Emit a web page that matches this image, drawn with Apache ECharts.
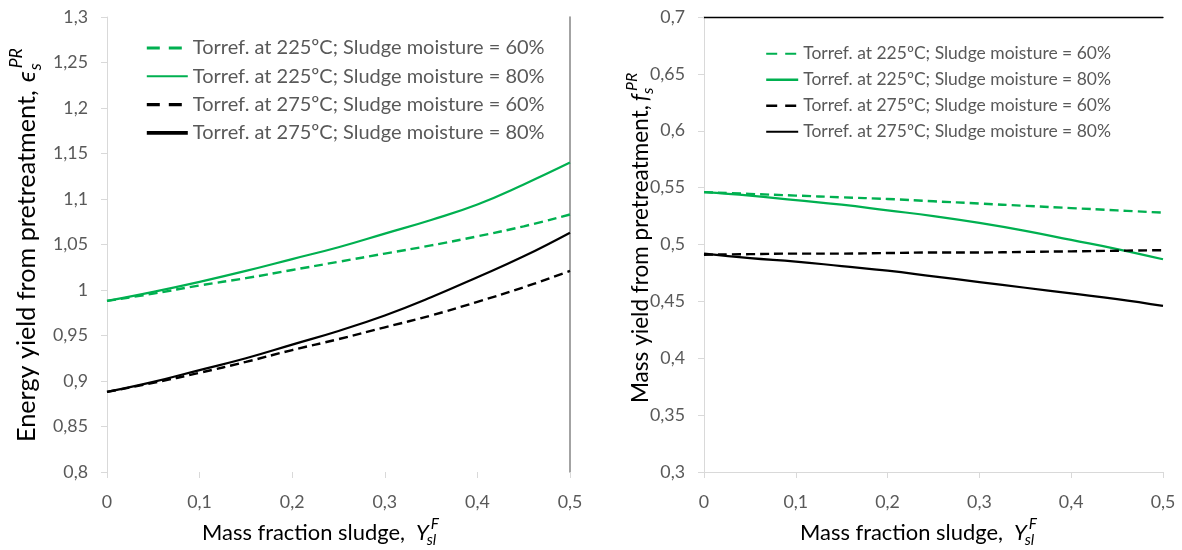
<!DOCTYPE html>
<html>
<head>
<meta charset="utf-8">
<script src="https://cdn.jsdelivr.net/npm/echarts@6/dist/echarts.min.js"></script>
<style>
  html, body { margin: 0; padding: 0; background: #ffffff; }
  #chart { width: 1182px; height: 550px; }
</style>
</head>
<body>
<div id="chart"></div>
<script>
// Mass fraction of sludge in the blend (x for both panels)
const xFraction = [0, 0.05, 0.1, 0.15, 0.2, 0.25, 0.3, 0.35, 0.4, 0.45, 0.5];

// Series labels
const seriesNames = [
  'Torref. at 225ºC; Sludge moisture = 60%',
  'Torref. at 225ºC; Sludge moisture = 80%',
  'Torref. at 275ºC; Sludge moisture = 60%',
  'Torref. at 275ºC; Sludge moisture = 80%'
];

// Energy yield from pretreatment (left panel)
const energy225m60 = [0.988, 0.996, 1.005, 1.013, 1.022, 1.031, 1.040, 1.049, 1.059, 1.070, 1.083];
const energy225m80 = [0.988, 0.998, 1.009, 1.021, 1.034, 1.047, 1.062, 1.077, 1.094, 1.116, 1.140];
const energy275m60 = [0.888, 0.898, 0.909, 0.921, 0.934, 0.946, 0.959, 0.972, 0.987, 1.003, 1.021];
const energy275m80 = [0.888, 0.899, 0.912, 0.925, 0.940, 0.955, 0.972, 0.992, 1.014, 1.037, 1.063];

// Mass yield from pretreatment (right panel)
const mass225m60 = [0.546, 0.5445, 0.543, 0.5415, 0.540, 0.538, 0.536, 0.534, 0.532, 0.530, 0.528];
const mass225m80 = [0.546, 0.543, 0.539, 0.535, 0.530, 0.525, 0.519, 0.512, 0.504, 0.496, 0.487];
const mass275m60 = [0.491, 0.4915, 0.492, 0.492, 0.4925, 0.493, 0.493, 0.4935, 0.494, 0.4945, 0.495];
const mass275m80 = [0.492, 0.488, 0.485, 0.481, 0.477, 0.472, 0.467, 0.462, 0.457, 0.452, 0.446];

// Axis ranges
const xRange = { min: 0, max: 0.5, interval: 0.1 };
const energyRange = { min: 0.8, max: 1.3, interval: 0.05 };
const massRange = { min: 0.3, max: 0.7, interval: 0.05 };

const GREEN = '#00b050';
const BLACK = '#000000';
const LABEL_GREY = '#595959';
const AXIS_GREY = '#d9d9d9';
const FONT = 'Lato, "Noto Sans", "Liberation Sans", sans-serif';

// Text measuring helpers
const measureCtx = document.createElement('canvas').getContext('2d');
function textWidth(text, size, style) {
  measureCtx.font = (style ? style + ' ' : '') + size + 'px ' + FONT;
  return measureCtx.measureText(text).width;
}
function fitSize(text, width, style) {
  return 100 * width / textWidth(text, 100, style);
}

const tickSize = fitSize('0,85', 35);
const legendLeftSize = fitSize(seriesNames[0], 352);
const legendRightSize = fitSize(seriesNames[0], 308);
const yTitleLeftSize = fitSize('Energy yield from pretreatment,', 352);
const yTitleRightSize = fitSize('Mass yield from pretreatment,', 298);
const xTitleSize = fitSize('Mass fraction sludge,', 203);

const commaFormat = v => String(Math.round(v * 100) / 100).replace('.', ',');

function lineSeries(name, values, color, dashed, axisIndex, yAxisIndex) {
  return {
    name: name,
    type: 'line',
    xAxisIndex: axisIndex,
    yAxisIndex: yAxisIndex,
    data: xFraction.map((x, i) => [x, values[i]]),
    symbol: 'none',
    smooth: 0.45,
    silent: true,
    lineStyle: { color: color, width: dashed ? 2.4 : 2.2, type: dashed ? [9, 5] : 'solid' },
    itemStyle: { color: color },
    emphasis: { disabled: true }
  };
}

// Title made of a plain part followed by an italic symbol with stacked sub/superscripts
function mathTitle(o) {
  const wMain = textWidth(o.main, o.size);
  const wSym = textWidth(o.sym, o.size, 'italic');
  const small = o.size * 0.7;
  const symX = wMain + o.gap;
  const scriptX = symX + wSym + (o.scriptShift || 0);
  const base = { fontFamily: FONT, fill: '#000000', align: 'left', verticalAlign: 'middle' };
  return {
    type: 'group',
    x: o.x,
    y: o.y,
    rotation: o.rotation || 0,
    silent: true,
    children: [
      { type: 'text', x: 0, y: 0, style: Object.assign({ text: o.main, fontSize: o.size }, base) },
      { type: 'text', x: symX, y: 0, style: Object.assign({ text: o.sym, fontSize: o.size, fontStyle: 'italic' }, base) },
      { type: 'text', x: scriptX, y: o.size * 0.32, style: Object.assign({ text: o.sub, fontSize: small, fontStyle: 'italic' }, base) },
      { type: 'text', x: scriptX + (o.supShift || 0), y: -o.size * 0.42, style: Object.assign({ text: o.sup, fontSize: small, fontStyle: 'italic' }, base) }
    ]
  };
}

function valueX(gridIndex, extra) {
  return Object.assign({
    type: 'value',
    gridIndex: gridIndex,
    min: xRange.min, max: xRange.max, interval: xRange.interval,
    splitLine: { show: false },
    axisLine: { show: true, lineStyle: { color: AXIS_GREY, width: 1 } },
    axisTick: { show: true, length: 6, lineStyle: { color: AXIS_GREY } },
    axisLabel: { margin: 21, color: LABEL_GREY, fontSize: tickSize, fontFamily: FONT, formatter: commaFormat }
  }, extra || {});
}

function valueY(gridIndex, range, extra) {
  return Object.assign({
    type: 'value',
    gridIndex: gridIndex,
    min: range.min, max: range.max, interval: range.interval,
    splitLine: { show: false },
    axisLine: { show: true, lineStyle: { color: AXIS_GREY, width: 1 } },
    axisTick: { show: true, length: 6, lineStyle: { color: AXIS_GREY } },
    axisLabel: { margin: 19, color: LABEL_GREY, fontSize: tickSize, fontFamily: FONT, formatter: commaFormat }
  }, extra || {});
}

const hidden = { axisLabel: { show: false }, axisTick: { show: false }, splitLine: { show: false } };

// Legend rows: line sample only (the marker part of the icon is made transparent)
function legendBlock(left, top, size, iconWidth, rowHeight, thickLeft) {
  const styles = thickLeft
    ? [{ width: 3.2, type: [13, 9] }, { width: 2 }, { width: 3.2, type: [13, 9] }, { width: 3.6 }]
    : [{ width: 2, type: [11, 8] }, { width: 2.4 }, { width: 2.4, type: [11, 8] }, { width: 2.2 }];
  return {
    orient: 'vertical',
    left: left,
    top: top,
    itemWidth: iconWidth,
    itemHeight: size,
    itemGap: rowHeight - size,
    selectedMode: false,
    textStyle: { color: LABEL_GREY, fontSize: size, fontFamily: FONT, lineHeight: size },
    data: seriesNames.map((n, i) => ({ name: n, lineStyle: styles[i], itemStyle: { opacity: 0 } }))
  };
}

const chart = echarts.init(document.getElementById('chart'), null, { renderer: 'canvas' });

chart.setOption({
  animation: false,
  backgroundColor: '#ffffff',
  grid: [
    { left: 107, right: 612, top: 17, bottom: 78 },
    { left: 704, right: 19, top: 17, bottom: 78 }
  ],
  xAxis: [
    valueX(0, { axisLine: { show: false } }),
    valueX(1),
    valueX(1, Object.assign({ position: 'top', axisLine: { show: true, lineStyle: { color: BLACK, width: 1.3 } } }, hidden))
  ],
  yAxis: [
    valueY(0, energyRange),
    valueY(0, energyRange, Object.assign({ position: 'right', axisLine: { show: true, lineStyle: { color: '#8c8c8c', width: 1.6 } } }, hidden)),
    valueY(1, massRange)
  ],
  legend: [
    legendBlock(140, 33, legendLeftSize, 41, 28.3, true),
    legendBlock(760, 40, legendRightSize, 32, 26, false)
  ],
  series: [
    lineSeries(seriesNames[0], energy225m60, GREEN, true, 0, 0),
    lineSeries(seriesNames[1], energy225m80, GREEN, false, 0, 0),
    lineSeries(seriesNames[2], energy275m60, BLACK, true, 0, 0),
    lineSeries(seriesNames[3], energy275m80, BLACK, false, 0, 0),
    lineSeries(seriesNames[0], mass225m60, GREEN, true, 1, 2),
    lineSeries(seriesNames[1], mass225m80, GREEN, false, 1, 2),
    lineSeries(seriesNames[2], mass275m60, BLACK, true, 1, 2),
    lineSeries(seriesNames[3], mass275m80, BLACK, false, 1, 2)
  ],
  graphic: [
    mathTitle({ main: 'Energy yield from pretreatment,', sym: 'ϵ', sub: 's', sup: 'PR',
      size: yTitleLeftSize, x: 27, y: 442, rotation: Math.PI / 2, gap: 8, scriptShift: 1, supShift: 2 }),
    mathTitle({ main: 'Mass yield from pretreatment,', sym: 'f', sub: 's', sup: 'PR',
      size: yTitleRightSize, x: 641, y: 403, rotation: Math.PI / 2, gap: 4, scriptShift: 0, supShift: 3 }),
    mathTitle({ main: 'Mass fraction sludge,', sym: 'Y', sub: 'sl', sup: 'F',
      size: xTitleSize, x: 202, y: 533, gap: 11, scriptShift: -2, supShift: 4 }),
    mathTitle({ main: 'Mass fraction sludge,', sym: 'Y', sub: 'sl', sup: 'F',
      size: xTitleSize, x: 800, y: 533, gap: 11, scriptShift: -2, supShift: 4 })
  ]
});
</script>
</body>
</html>
